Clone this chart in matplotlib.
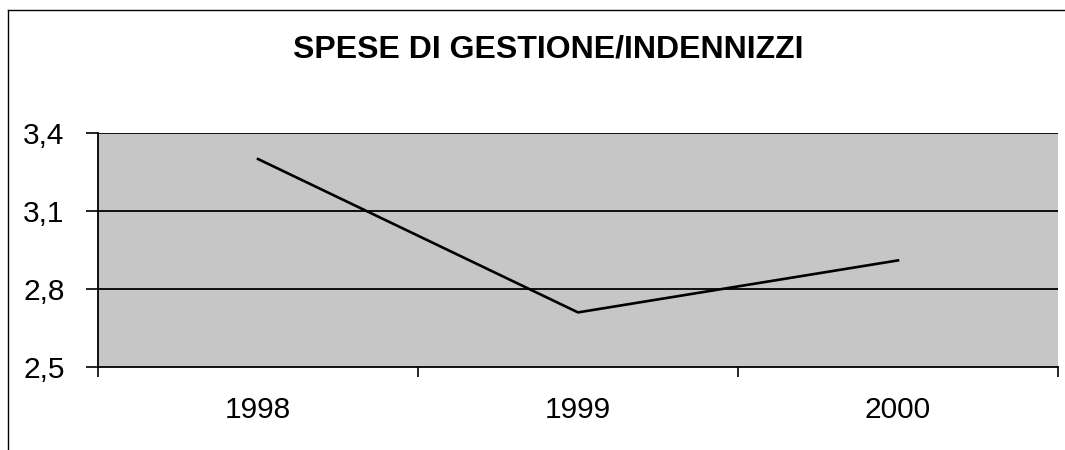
import matplotlib
matplotlib.use("Agg")
import matplotlib.pyplot as plt
from matplotlib.lines import Line2D
from matplotlib.ticker import FixedLocator, FuncFormatter

plt.rcParams['font.family'] = ['Liberation Sans', 'DejaVu Sans']

# data
years = ['1998', '1999', '2000']
values = [3.30, 2.71, 2.91]
y_ticks = [2.5, 2.8, 3.1, 3.4]

fig = plt.figure(figsize=(10.65, 4.5), dpi=100)
ax = fig.add_axes([98 / 1065, 1 - 367 / 450, 960 / 1065, 234 / 450])

ax.set_facecolor('#c6c6c6')
x = list(range(len(years)))
ax.plot(x, values, color='black', linewidth=1.9, zorder=3)

ax.set_xlim(-0.5, len(years) - 0.5)
ax.set_ylim(2.5, 3.4)

# category labels centred, tick marks on the boundaries
ax.set_xticks(x)
ax.set_xticklabels(years, fontsize=21.5)
ax.tick_params(axis='x', which='major', length=0, pad=21)
ax.xaxis.set_minor_locator(FixedLocator([i - 0.5 for i in range(len(years) + 1)]))
ax.tick_params(axis='x', which='minor', length=7, width=1.2, direction='out')

ax.set_yticks(y_ticks)
ax.yaxis.set_major_formatter(FuncFormatter(lambda v, p: f"{v:.1f}".replace('.', ',')))
ax.tick_params(axis='y', length=9, width=1.2, direction='out', pad=15, labelsize=21.5)

for yv in y_ticks[1:]:
    ax.axhline(yv, color='black', linewidth=1.3, zorder=2)

for s in ['top', 'right']:
    ax.spines[s].set_visible(False)
ax.spines['left'].set_linewidth(1.3)
ax.spines['bottom'].set_linewidth(1.3)

fig.text(548 / 1065, 1 - 50 / 450, 'SPESE DI GESTIONE/INDENNIZZI',
         ha='center', va='center', fontsize=23, fontweight='bold')

# outer chart frame (only left and top edges are visible)
fig.add_artist(Line2D([8 / 1065, 8 / 1065], [0, 1 - 10 / 450],
                      transform=fig.transFigure, color='black', linewidth=1))
fig.add_artist(Line2D([8 / 1065, 1], [1 - 10 / 450, 1 - 10 / 450],
                      transform=fig.transFigure, color='black', linewidth=1))

fig.savefig('out.png', dpi=100)
